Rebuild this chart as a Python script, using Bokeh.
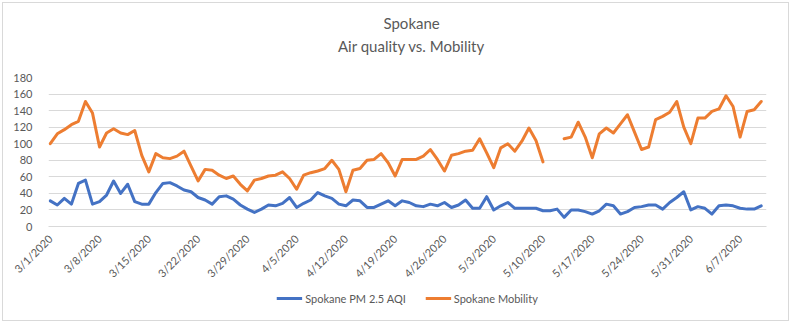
from math import pi, nan
from bokeh.plotting import figure
from bokeh.layouts import column
from bokeh.models import FixedTicker, Legend, LegendItem, Range1d, ColumnDataSource, Label
from bokeh.embed import file_html
from bokeh.resources import INLINE

title_lines = ["Spokane", "Air quality vs. Mobility"]
series_names = ["Spokane PM 2.5 AQI", "Spokane Mobility"]

# day offsets from 3/1/2020
days = list(range(102))
tick_days = [0, 7, 14, 21, 28, 35, 42, 49, 56, 63, 70, 77, 84, 91, 98]
tick_labels = ["3/1/2020", "3/8/2020", "3/15/2020", "3/22/2020", "3/29/2020",
               "4/5/2020", "4/12/2020", "4/19/2020", "4/26/2020", "5/3/2020",
               "5/10/2020", "5/17/2020", "5/24/2020", "5/31/2020", "6/7/2020"]
y_ticks = [0, 20, 40, 60, 80, 100, 120, 140, 160, 180]

aqi = [31, 26, 34, 27, 52, 56, 27, 30, 38, 55,
       40, 51, 30, 27, 27, 41, 52, 53, 49, 44,
       42, 35, 32, 27, 36, 37, 33, 26, 21, 17,
       21, 26, 25, 28, 35, 23, 28, 32, 41, 37,
       34, 27, 25, 32, 31, 23, 23, 27, 31, 25,
       31, 29, 25, 24, 27, 25, 29, 23, 26, 32,
       22, 22, 36, 20, 25, 29, 22, 22, 22, 22,
       19, 19, 21, 11, 20, 20, 18, 15, 19, 27,
       25, 15, 18, 23, 24, 26, 26, 21, 29, 35,
       42, 20, 24, 22, 15, 25, 26, 25, 22, 21,
       21, 25]

mobility = [100, 112, 117, 123, 127, 151, 137, 96, 113, 118,
            113, 111, 116, 86, 66, 88, 83, 82, 85, 91,
            73, 55, 69, 68, 62, 58, 61, 51, 43, 56,
            58, 61, 62, 66, 58, 45, 62, 65, 67, 70,
            80, 69, 42, 68, 70, 80, 81, 88, 77, 61,
            81, 81, 81, 85, 93, 81, 67, 86, 88, 91,
            92, 106, 89, 71, 95, 100, 91, 103, 119, 104,
            78, nan, nan, 106, 108, 126, 108, 83, 112, 119,
            113, 124, 135, 114, 93, 96, 129, 133, 138, 151,
            120, 100, 131, 131, 139, 142, 158, 145, 108, 139,
            141, 151]

blue = "#4472C4"
orange = "#ED7D31"
grey_text = "#595959"
grid = "#d9d9d9"
FONT = "Lato"
W = 785


def strip(height, yr):
    f = figure(width=W, height=height, output_backend="svg", toolbar_location=None,
               x_axis_location=None, y_axis_location=None,
               x_range=Range1d(0, W), y_range=Range1d(*yr),
               min_border=0, background_fill_color="white", border_fill_color="white")
    f.outline_line_color = None
    f.xgrid.visible = False
    f.ygrid.visible = False
    return f


src = ColumnDataSource(dict(day=days, aqi=aqi, mob=mobility))

# title strip (data units = pixels)
TH = 64
top = strip(TH, (0, TH))
top.add_layout(Label(x=397, y=TH - 19, text=title_lines[0], text_align="center",
                     text_baseline="middle", text_font=FONT, text_font_size="15px",
                     text_color=grey_text))
top.add_layout(Label(x=397, y=TH - 42, text=title_lines[1], text_align="center",
                     text_baseline="middle", text_font=FONT, text_font_size="15px",
                     text_color=grey_text))

# main chart
BOT = 64
H1 = 159 + BOT
p = figure(width=W, height=H1, output_backend="svg", toolbar_location=None,
           x_range=Range1d(-0.25, 101.75), y_range=Range1d(0, 180),
           min_border_left=45, min_border_right=22, min_border_top=10,
           min_border_bottom=BOT,
           background_fill_color="white", border_fill_color="white")
p.outline_line_color = None

p.line("day", "aqi", source=src, line_color=blue, line_width=3,
       line_join="round", line_cap="round")
p.line("day", "mob", source=src, line_color=orange, line_width=3,
       line_join="round", line_cap="round")

p.xgrid.grid_line_color = None
p.ygrid.grid_line_color = grid
p.ygrid.ticker = FixedTicker(ticks=y_ticks)

p.yaxis.ticker = FixedTicker(ticks=y_ticks)
p.yaxis.axis_line_color = None
p.yaxis.major_tick_line_color = None
p.yaxis.minor_tick_line_color = None
p.yaxis.major_label_standoff = 10
p.yaxis.major_label_text_font = FONT
p.yaxis.major_label_text_font_size = "11px"
p.yaxis.major_label_text_color = grey_text

p.xaxis.ticker = FixedTicker(ticks=tick_days)
p.xaxis.major_label_overrides = {d: l for d, l in zip(tick_days, tick_labels)}
p.xaxis.major_label_orientation = pi / 4
p.xaxis.axis_line_color = grid
p.xaxis.major_tick_line_color = None
p.xaxis.minor_tick_line_color = None
p.xaxis.major_label_standoff = 4
p.xaxis.major_label_text_font = FONT
p.xaxis.major_label_text_font_size = "11px"
p.xaxis.major_label_text_color = grey_text

# legend strip
lg = strip(317 - TH - H1, (1000, 1001))
lg.x_range = Range1d(-0.25, 101.75)
l1 = lg.line("day", "aqi", source=src, line_color=blue, line_width=3)
l2 = lg.line("day", "mob", source=src, line_color=orange, line_width=3)
legend = Legend(items=[LegendItem(label=series_names[0], renderers=[l1]),
                       LegendItem(label=series_names[1], renderers=[l2])],
                location="top_center", orientation="horizontal",
                glyph_width=26, glyph_height=14, label_standoff=3, spacing=19,
                padding=0, margin=1, background_fill_alpha=0, border_line_alpha=0,
                label_text_font=FONT, label_text_font_size="11px",
                label_text_color=grey_text)
lg.add_layout(legend)

layout = column(top, p, lg, spacing=0,
                styles={"margin-left": "2px", "margin-top": "2px",
                        "border": "1px solid #d9d9d9"})

open("out.html", "w").write(file_html(layout, INLINE))
